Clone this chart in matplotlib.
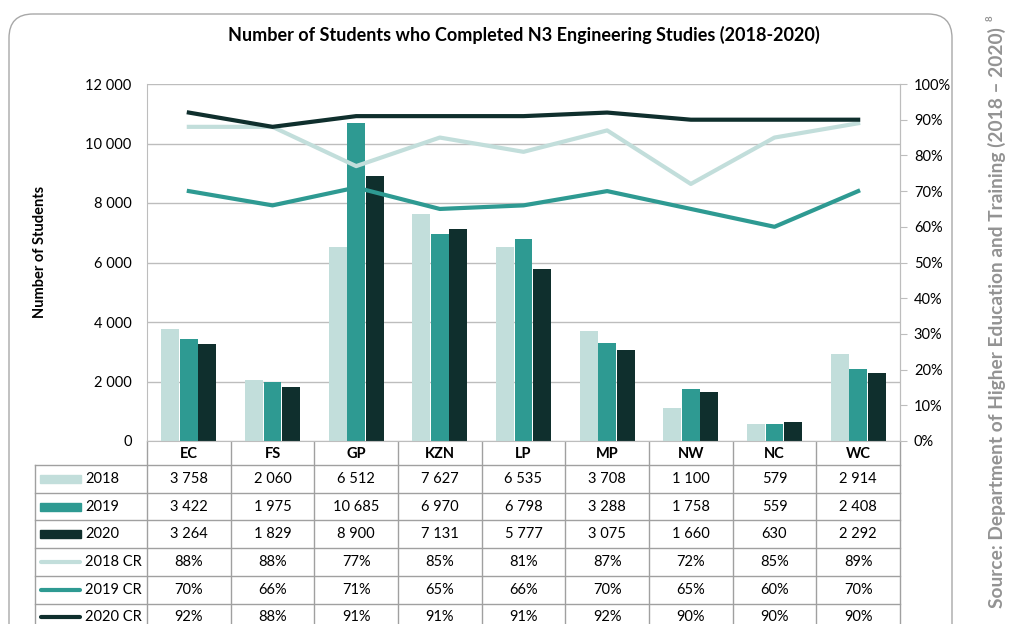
import numpy as np
import matplotlib.pyplot as plt
from matplotlib.patches import FancyBboxPatch, Rectangle

plt.rcParams['font.family'] = ['Lato', 'DejaVu Sans']

regions = ['EC', 'FS', 'GP', 'KZN', 'LP', 'MP', 'NW', 'NC', 'WC']
students_2018 = [3758, 2060, 6512, 7627, 6535, 3708, 1100, 579, 2914]
students_2019 = [3422, 1975, 10685, 6970, 6798, 3288, 1758, 559, 2408]
students_2020 = [3264, 1829, 8900, 7131, 5777, 3075, 1660, 630, 2292]
cr_2018 = [88, 88, 77, 85, 81, 87, 72, 85, 89]
cr_2019 = [70, 66, 71, 65, 66, 70, 65, 60, 70]
cr_2020 = [92, 88, 91, 91, 91, 92, 90, 90, 90]

c18 = '#c2dedb'
c19 = '#2e9a92'
c20 = '#0f2f2d'
grey = '#bdbdbd'

W, H = 1010, 624
fig = plt.figure(figsize=(W / 100, H / 100), dpi=100)

# plot area in pixels
left, right, top, bottom = 147, 900, 84, 441
ax = fig.add_axes([left / W, 1 - bottom / H, (right - left) / W, (bottom - top) / H])
x = np.arange(len(regions))
bw = 0.215
for off, vals, col in [(-0.22, students_2018, c18), (0.0, students_2019, c19), (0.22, students_2020, c20)]:
    ax.bar(x + off, vals, bw, color=col, zorder=2)
ax.set_xlim(-0.5, len(regions) - 0.5)
ax.set_ylim(0, 12000)
yt = list(range(0, 12001, 2000))
ax.set_yticks(yt)
ax.set_yticklabels([f'{v:,}'.replace(',', ' ') for v in yt])
ax.grid(axis='y', color=grey, lw=1, zorder=0)
ax.tick_params(axis='y', length=0, pad=11, labelsize=10.5)
ax.set_xticks([])
for s in ax.spines.values():
    s.set_color(grey)
ax.spines['top'].set_visible(False)

ax2 = ax.twinx()
ax2.plot(x, cr_2018, color=c18, lw=3)
ax2.plot(x, cr_2019, color=c19, lw=3)
ax2.plot(x, cr_2020, color=c20, lw=3)
ax2.set_ylim(0, 100)
pt = list(range(0, 101, 10))
ax2.set_yticks(pt)
ax2.set_yticklabels([f'{v}%' for v in pt])
ax2.tick_params(axis='y', length=5, color=grey, pad=5, labelsize=10.5)
for s in ax2.spines.values():
    s.set_visible(False)
ax2.spines['right'].set_visible(True)
ax2.spines['right'].set_color(grey)

ax.set_title('Number of Students who Completed N3 Engineering Studies (2018-2020)',
             fontsize=13, fontweight='bold', pad=31)
fig.text(40 / W, 1 - 252 / H, 'Number of Students', rotation=90, ha='center', va='center',
         fontsize=10.5, fontweight='bold')

# overlay in pixel coords for the table, frame and source
ov = fig.add_axes([0, 0, 1, 1], zorder=-1)
ov.set_xlim(0, W)
ov.set_ylim(H, 0)
ov.axis('off')

ov.add_patch(FancyBboxPatch((9, 14), 943, 680, boxstyle='round,pad=0,rounding_size=24',
                            fc='none', ec='#a8a8a8', lw=1))

colw = (right - left) / len(regions)
lab_left = 35
head_bot = 465
rowh = 27.7
row_labels = ['2018', '2019', '2020', '2018 CR', '2019 CR', '2020 CR']
row_vals = [students_2018, students_2019, students_2020, cr_2018, cr_2019, cr_2020]
row_cols = [c18, c19, c20, c18, c19, c20]
tab_bot = H + 10
lc = '#a0a0a0'

# grid lines
for k in range(len(regions) + 1):
    ov.plot([left + k * colw] * 2, [bottom, tab_bot], color=lc, lw=1)
ov.plot([lab_left, lab_left], [head_bot, tab_bot], color=lc, lw=1)
for r in range(len(row_labels) + 1):
    yy = head_bot + r * rowh
    ov.plot([lab_left, right], [yy, yy], color=lc, lw=1)

for i, reg in enumerate(regions):
    ov.text(left + (i + 0.5) * colw, (bottom + head_bot) / 2 + 1, reg, ha='center', va='center',
            fontsize=10.5, fontweight='bold')

for r, (lab, vals, col) in enumerate(zip(row_labels, row_vals, row_cols)):
    yc = head_bot + (r + 0.5) * rowh
    if r < 3:
        ov.add_patch(Rectangle((40, yc - 4), 41, 8, color=col))
        fmt = lambda v: f'{v:,}'.replace(',', ' ')
    else:
        ov.plot([41, 80], [yc, yc], color=col, lw=3, solid_capstyle='round')
        fmt = lambda v: f'{v}%'
    ov.text(85, yc, lab, ha='left', va='center', fontsize=10.5)
    for i, v in enumerate(vals):
        ov.text(left + (i + 0.5) * colw, yc, fmt(v), ha='center', va='center', fontsize=10.5)

fig.text(997 / W, 1 - 318 / H, 'Source: Department of Higher Education and Training (2018 \u2013 2020)',
         rotation=90, ha='center', va='center', fontsize=13.8, fontweight='bold', color='#939393')
fig.text(990 / W, 1 - 18 / H, '8', rotation=90, ha='center', va='center', fontsize=7,
         fontweight='bold', color='#939393')

fig.savefig('out.png', dpi=100)
